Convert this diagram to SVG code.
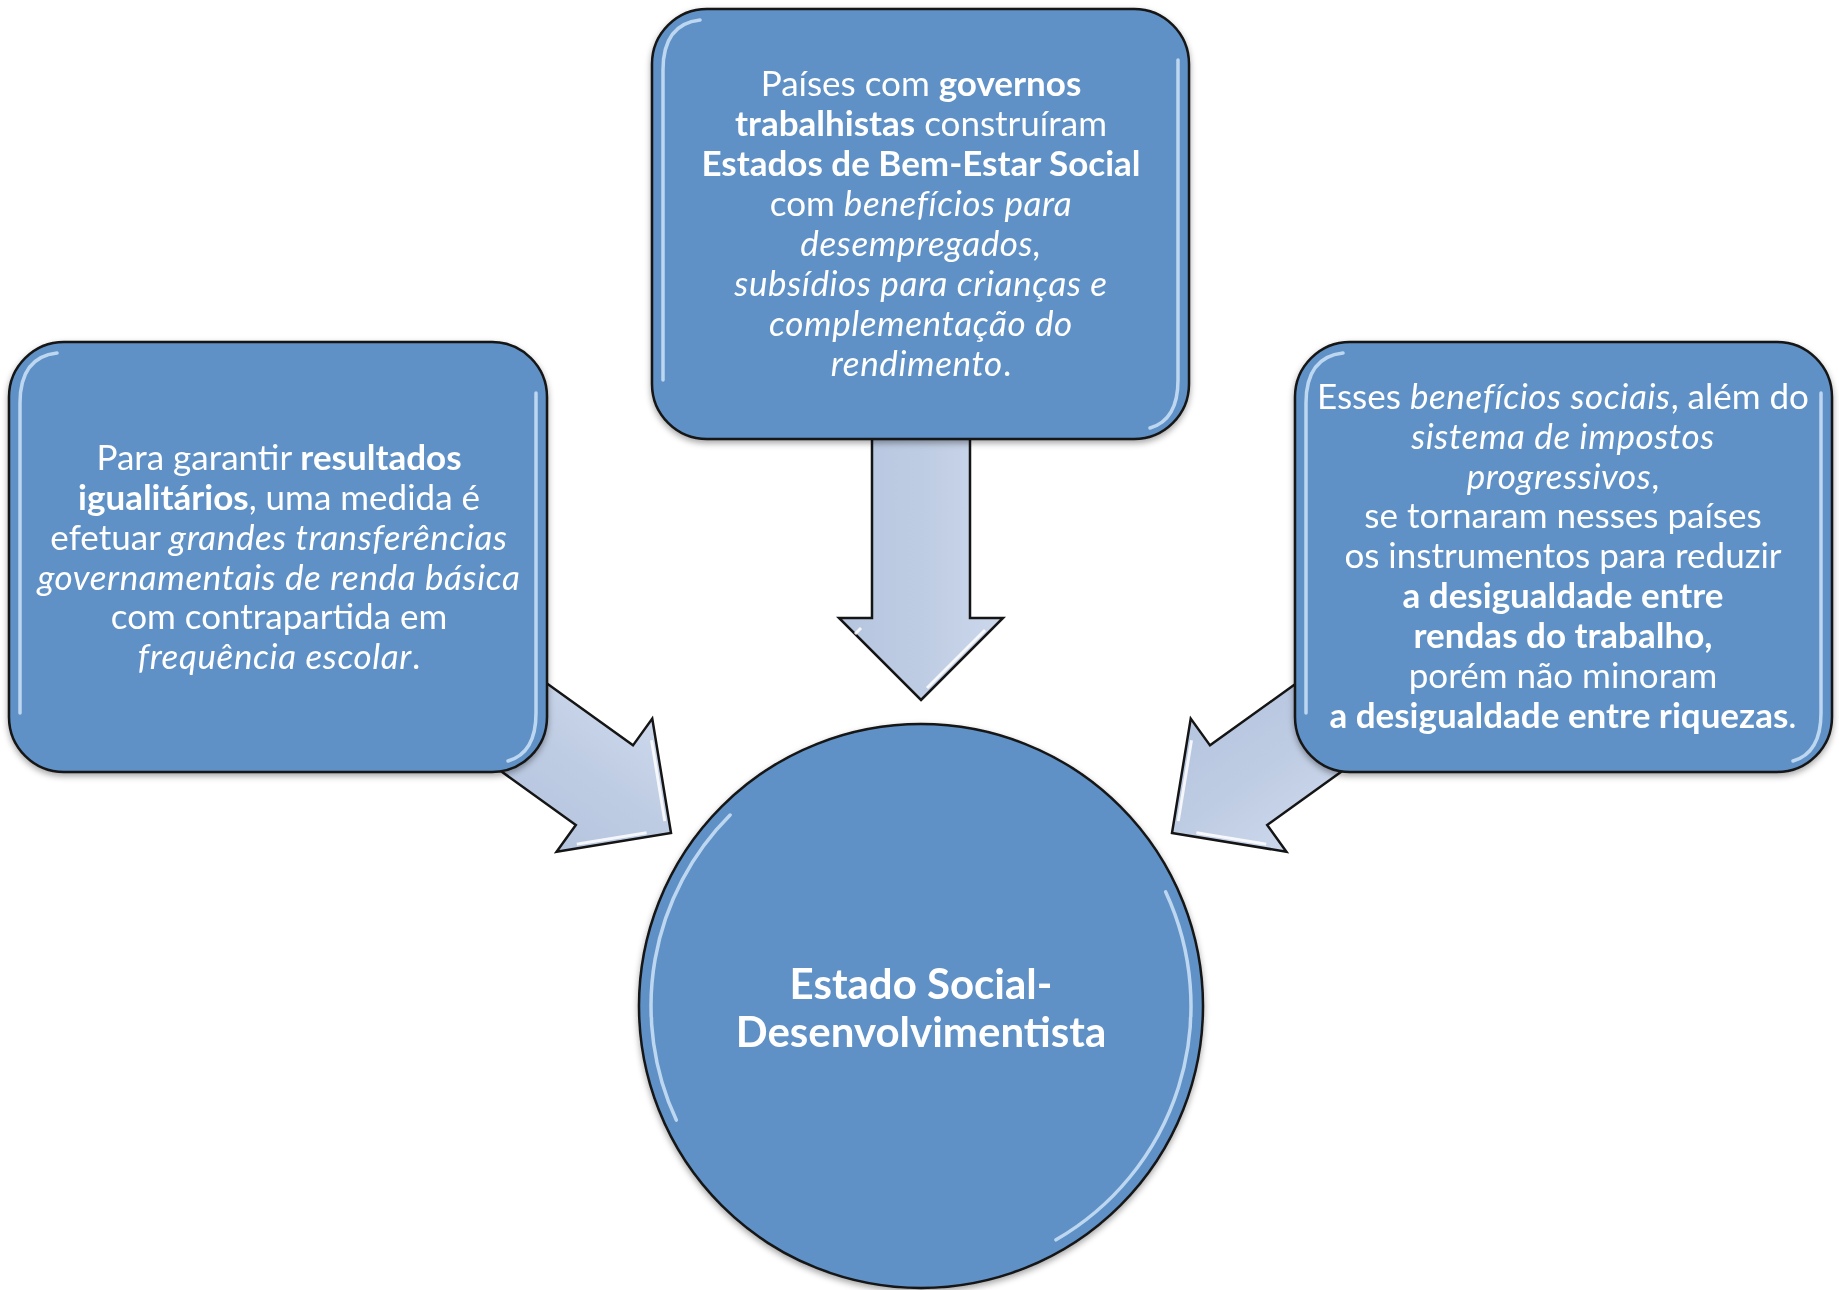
<svg xmlns="http://www.w3.org/2000/svg" width="1839" height="1290" viewBox="0 0 1839 1290">
<defs>
<style>
.box{fill:#5E91C6;stroke:#151515;stroke-width:2.5}
.hl{fill:none;stroke:#CFE3F8;stroke-width:3.5;stroke-linecap:round;opacity:.85}
.arrow{fill:url(#ag);stroke:#151515;stroke-width:2.5;stroke-linejoin:miter}
.ahl{fill:none;stroke:#ffffff;stroke-width:3;opacity:.85}
.t{font-family:Lato,"Open Sans","Liberation Sans",sans-serif;font-size:35px;fill:#ffffff;text-anchor:middle}
.ct{font-family:Lato,"Open Sans","Liberation Sans",sans-serif;font-size:42px;font-weight:bold;fill:#ffffff;text-anchor:middle}
.b{font-weight:bold}
.i{font-style:italic;letter-spacing:0.6px}
</style>
<linearGradient id="ag" x1="0" y1="0" x2="0" y2="1">
<stop offset="0" stop-color="#CCD7EB"/>
<stop offset="0.5" stop-color="#BECCE3"/>
<stop offset="1" stop-color="#B6C5DF"/>
</linearGradient>
<filter id="sh" x="-10%" y="-10%" width="120%" height="125%">
<feDropShadow dx="0" dy="3" stdDeviation="3" flood-color="#000" flood-opacity="0.35"/>
</filter>
</defs>
<rect width="1839" height="1290" fill="#ffffff"/>
<g id="connectors">
<g transform="translate(921,700) rotate(90)">
<polygon class="arrow" points="0,0 -82,-82 -82,-49 -300,-49 -300,49 -82,49 -82,82"/>
<path class="ahl" d="M -70,-64 L -66,-60 L -12,-6"/>
<path class="ahl" d="M -72,60 L -66,66"/>
</g>
<g transform="translate(671,833) rotate(35.7)">
<polygon class="arrow" points="0,0 -82,-82 -82,-49 -250,-49 -250,49 -82,49 -82,82"/>
<path class="ahl" d="M -70,-64 L -66,-60 L -12,-6"/>
<path class="ahl" d="M -70,64 L -66,60 L -20,14"/>
</g>
<g transform="translate(1172,833) rotate(144.3)">
<polygon class="arrow" points="0,0 -82,-82 -82,-49 -250,-49 -250,49 -82,49 -82,82"/>
<path class="ahl" d="M -70,64 L -66,60 L -12,6"/>
<path class="ahl" d="M -70,-64 L -66,-60 L -20,-14"/>
</g>
</g>
<g id="node-top" filter="url(#sh)">
<rect class="box" x="652" y="9" width="537" height="430" rx="55"/>
<path class="hl" d="M 663,380 L 663,70 Q 663,24 700,20"/>
<path class="hl" d="M 1178,60 L 1178,380 Q 1178,420 1150,428"/>
<text class="t" x="921" y="96">Países com <tspan class="b">governos</tspan></text>
<text class="t" x="921" y="136"><tspan class="b">trabalhistas</tspan> construíram</text>
<text class="t" x="921" y="176"><tspan class="b">Estados de Bem-Estar Social</tspan></text>
<text class="t" x="921" y="216">com <tspan class="i">benefícios para</tspan></text>
<text class="t" x="921" y="256"><tspan class="i">desempregados,</tspan></text>
<text class="t" x="921" y="296"><tspan class="i">subsídios para crianças e</tspan></text>
<text class="t" x="921" y="336"><tspan class="i">complementação do</tspan></text>
<text class="t" x="921" y="376"><tspan class="i">rendimento</tspan>.</text>
</g>
<g id="node-left" filter="url(#sh)">
<rect class="box" x="9" y="342" width="538" height="430" rx="55"/>
<path class="hl" d="M 20,713 L 20,403 Q 20,357 57,353"/>
<path class="hl" d="M 536,393 L 536,713 Q 536,753 508,761"/>
<text class="t" x="279" y="470">Para garantir <tspan class="b">resultados</tspan></text>
<text class="t" x="279" y="510"><tspan class="b">igualitários</tspan>, uma medida é</text>
<text class="t" x="279" y="550">efetuar <tspan class="i">grandes transferências</tspan></text>
<text class="t" x="279" y="590"><tspan class="i">governamentais de renda básica</tspan></text>
<text class="t" x="279" y="629">com contrapartida em</text>
<text class="t" x="279" y="669"><tspan class="i">frequência escolar</tspan>.</text>
</g>
<g id="node-right" filter="url(#sh)">
<rect class="box" x="1295" y="342" width="537" height="430" rx="55"/>
<path class="hl" d="M 1306,713 L 1306,403 Q 1306,357 1343,353"/>
<path class="hl" d="M 1821,393 L 1821,713 Q 1821,753 1793,761"/>
<text class="t" x="1563" y="409">Esses <tspan class="i">benefícios sociais</tspan>, além do</text>
<text class="t" x="1563" y="449"><tspan class="i">sistema de impostos</tspan></text>
<text class="t" x="1563" y="489"><tspan class="i">progressivos</tspan>,</text>
<text class="t" x="1563" y="528">se tornaram nesses países</text>
<text class="t" x="1563" y="568">os instrumentos para reduzir</text>
<text class="t" x="1563" y="608"><tspan class="b">a desigualdade entre</tspan></text>
<text class="t" x="1563" y="648"><tspan class="b">rendas do trabalho,</tspan></text>
<text class="t" x="1563" y="688">porém não minoram</text>
<text class="t" x="1563" y="728"><tspan class="b">a desigualdade entre riquezas</tspan>.</text>
</g>
<g id="node-center" filter="url(#sh)">
<circle class="box" cx="921" cy="1006" r="282"/>
<path class="hl" d="M 730.1,815.1 A 270 270 0 0 0 676.3,1120.1"/>
<path class="hl" d="M 1165.7,891.9 A 270 270 0 0 1 1056,1239.8"/>
<text class="ct" x="921" y="999">Estado Social-</text>
<text class="ct" x="921" y="1047">Desenvolvimentista</text>
</g>
</svg>
